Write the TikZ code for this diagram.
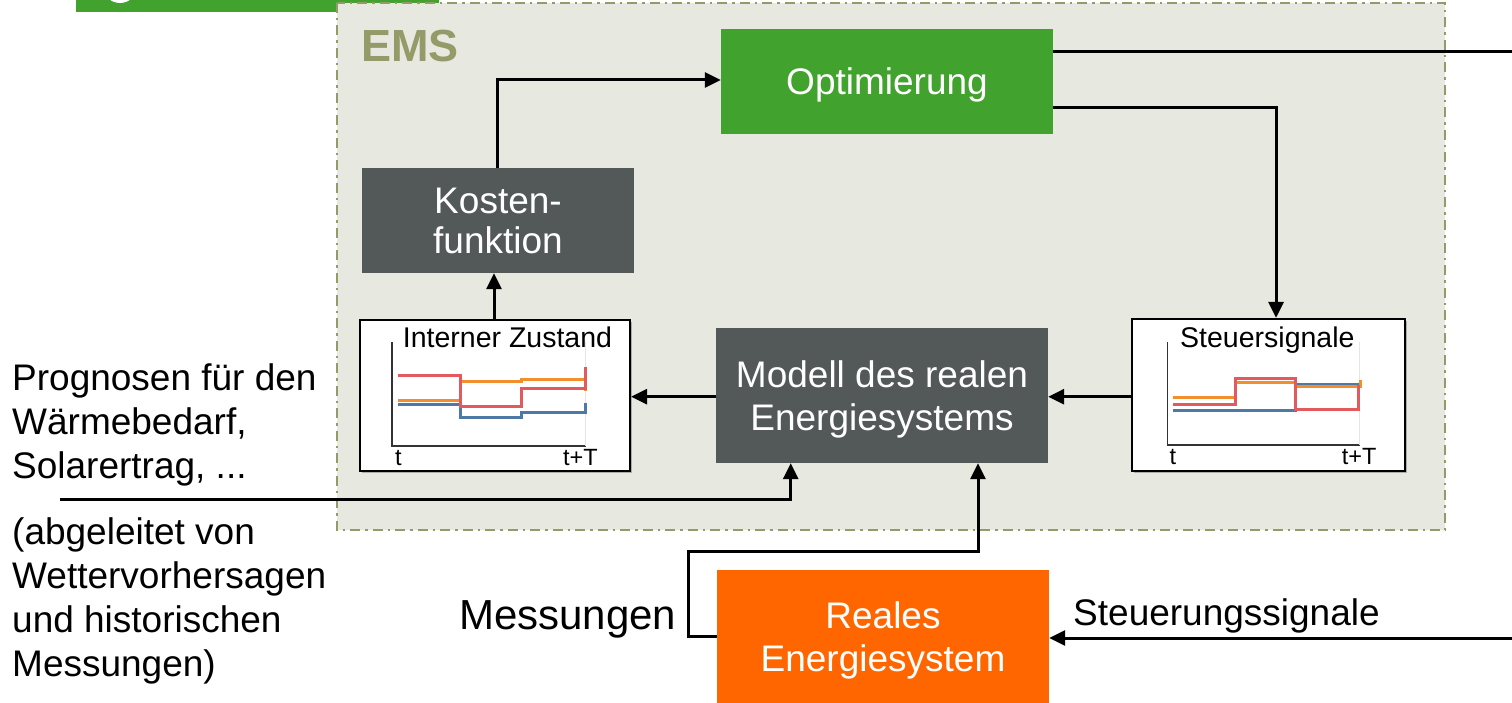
\documentclass[tikz,border=0pt]{standalone}
\usepackage{fontspec}
\setmainfont{Liberation Sans}
\usetikzlibrary{arrows.meta,shadows}
\definecolor{emsfill}{HTML}{E7E8E0}
\definecolor{emsline}{HTML}{959A69}
\definecolor{optgreen}{HTML}{42A22E}
\definecolor{darkbox}{HTML}{535858}
\definecolor{realorange}{HTML}{FF6600}
\definecolor{cred}{HTML}{E35A5E}
\definecolor{corange}{HTML}{F28E2B}
\definecolor{cblue}{HTML}{4E79A7}
\tikzset{
  bigtxt/.style={font=\fontsize{37}{43}\selectfont},
  filledbox/.style={bigtxt, text=white, align=center, inner sep=0pt, text depth=0pt},
  chartbox/.style={draw=black, line width=2.2pt, fill=white, inner sep=0pt,
     drop shadow={shadow xshift=2pt, shadow yshift=-2pt, opacity=0.25, fill=black}},
  conn/.style={line width=3pt, -{Triangle[length=16pt,width=15pt]}},
  sigline/.style={line width=3pt, line join=miter},
  charttitle/.style={font=\fontsize{28.5}{32}\selectfont, inner sep=0pt},
  axislbl/.style={font=\fontsize{23.5}{26}\selectfont, inner sep=0pt},
  lbl/.style={font=\fontsize{37}{44}\selectfont, inner sep=0pt, align=left},
}
\begin{document}
\begin{tikzpicture}[x=1pt,y=-1pt]
\clip (0,0) rectangle (1512,703);
\fill[white] (0,0) rectangle (1512,703);
% partially visible green box at top-left
\fill[optgreen] (76,-10) rectangle (439,12);
\fill[white] (120,-14) circle (17);
% EMS frame
\draw[emsline, fill=emsfill, line width=2.5pt, dash pattern=on 10pt off 5pt on 2.5pt off 5pt] (337,3) rectangle (1445,530);
\node[anchor=base west, inner sep=0pt, text=emsline, font=\fontsize{45}{50}\selectfont\bfseries] (ems) at (361,62) {EMS};
% boxes
\node[filledbox, fill=optgreen, minimum width=332pt, minimum height=105pt] (opt) at (887,81.5) {Optimierung};
\node[filledbox, fill=darkbox, minimum width=272pt, minimum height=105pt, font=\fontsize{37}{40}\selectfont] (kost) at (498,220.5) {Kosten-\\funktion};
\node[filledbox, fill=darkbox, minimum width=332pt, minimum height=135pt] (mod) at (882,395.5) {Modell des realen\\Energiesystems};
\node[filledbox, fill=realorange, minimum width=332pt, minimum height=133pt] (real) at (883,636.5) {Reales\\Energiesystem};
% chart boxes
\node[chartbox, minimum width=270pt, minimum height=151pt] (iz) at (495,395.5) {};
\node[chartbox, minimum width=273pt, minimum height=152pt] (ss) at (1268.5,395) {};
% chart: Interner Zustand
\draw[line width=1.5pt, black!80] (392,342) -- (392,446) -- (586,446);
\draw[line width=0.5pt, black!10] (585,342) -- (585,446);
\draw[sigline, cblue] (398,404) -- (460,404) -- (460,417) -- (521.7,417) -- (521.7,412.7) -- (585,412.7) -- (585,403);
\draw[sigline, corange] (398,400) -- (460,400) -- (460,381.3) -- (521.7,381.3) -- (521.7,379.7) -- (585,379.7) -- (585,391);
\draw[sigline, cred] (398,375.7) -- (460,375.7) -- (460,406.7) -- (521.7,406.7) -- (521.7,388.7) -- (585,388.7) -- (585,367);
\node[charttitle, anchor=base west] (izt) at (402.7,347.3) {Interner Zustand};
\node[axislbl, anchor=base west] (izt0) at (395,465) {t};
\node[axislbl, anchor=base east] (iztT) at (598,465) {t+T};
% chart: Steuersignale
\draw[line width=1.5pt, black!80] (1167.7,342) -- (1167.7,445) -- (1360,445);
\draw[line width=0.5pt, black!10] (1359,342) -- (1359,445);
\draw[sigline, cblue] (1173,410.7) -- (1295,410.7) -- (1295,384.3) -- (1360,384.3);
\draw[sigline, corange] (1173,397.3) -- (1235,397.3) -- (1235,382.3) -- (1295,382.3) -- (1295,386.7) -- (1360,386.7) -- (1360,380);
\draw[sigline, cred] (1173,404) -- (1235,404) -- (1235,378) -- (1295,378) -- (1295,409) -- (1358,409) -- (1358,385);
\node[charttitle, anchor=base west] (sst) at (1180,347.7) {Steuersignale};
\node[axislbl, anchor=base west] (sst0) at (1169.3,464) {t};
\node[axislbl, anchor=base east] (sstT) at (1376.7,464) {t+T};
% connectors inside EMS
\draw[conn] (kost.north -| 497.7,0) |- (opt.west |- 0,80);
\draw[conn] (iz.north -| 494,0) -- (kost.south -| 494,0);
\draw[conn] (opt.east |- 0,107.3) -| (ss.north -| 1276,0);
\draw[conn] (ss.west |- 0,396.7) -- (mod.east |- 0,396.7);
\draw[conn] (mod.west |- 0,396.7) -- (iz.east |- 0,396.7);
% external connections
\coordinate (progstart) at (60,499);
\draw[conn] (progstart) -| (mod.south -| 790.7,0);
\coordinate (m1) at (688.3,551.7);
\draw[conn] (real.west |- 0,636.7) -| (m1) -| (mod.south -| 978,0);
\coordinate (outtop) at (1560,51.7);
\coordinate (outbot) at (1560,638);
\draw[conn] (opt.east |- 0,51.7) -- (outtop) -- (outbot) -- (real.east |- 0,638);
% labels (base anchor = baseline of the last line)
\node[lbl, anchor=base west] (prog) at (12,478) {Prognosen für den\\Wärmebedarf,\\Solarertrag, ...};
\node[lbl, anchor=base west] (abg) at (12,676) {(abgeleitet von\\Wettervorhersagen\\und historischen\\Messungen)};
\node[anchor=base west, inner sep=0pt, font=\fontsize{42}{46}\selectfont] (mess) at (459,629) {Messungen};
\node[anchor=base west, inner sep=0pt, font=\fontsize{37}{43}\selectfont] (steu) at (1073,625) {Steuerungssignale};
\end{tikzpicture}
\end{document}
